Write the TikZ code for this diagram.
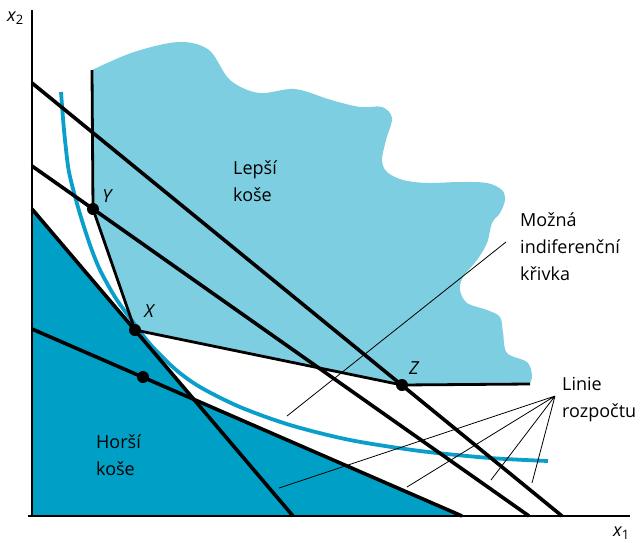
\documentclass[tikz,border=0pt]{standalone}
\usepackage{fontspec}
\setmainfont{Open Sans}
\definecolor{better}{HTML}{7ECEE2}
\definecolor{worse}{HTML}{00A0C6}
\definecolor{icurve}{HTML}{0A9ECA}
\begin{document}
\begin{tikzpicture}[x=1pt,y=-1pt,
  ax/.style={line width=2.8pt},
  budget/.style={line width=3.6pt},
  kink/.style={line width=2.8pt, line join=round},
  ptr/.style={line width=0.8pt},
  lbl/.style={font=\fontsize{18}{27}\selectfont, align=left, anchor=base west, inner sep=0pt},
  ptlabel/.style={font=\fontsize{18}{18}\selectfont\itshape, inner sep=0pt},
  dotnode/.style={circle, fill=black, minimum size=12pt, inner sep=0pt}]
\useasboundingbox (0,0) rectangle (641,542);
% key points
\coordinate (O) at (32,516);
\coordinate (Ytop) at (32,10);
\coordinate (Xend) at (630,516);
\coordinate (Xstart) at (28,516);
\coordinate (pY) at (93,209);
\coordinate (pX) at (135,330);
\coordinate (pZ) at (402,385);
\coordinate (pW) at (143,377);
\coordinate (K0) at (92,70);
\coordinate (K1) at (530,384);
% budget lines
\coordinate (L1a) at (32,83);  \coordinate (L1b) at (562,516);
\coordinate (L2a) at (32,166); \coordinate (L2b) at (529,516);
\coordinate (L3a) at (32,209); \coordinate (L3b) at (293,516);
\coordinate (L4a) at (32,329); \coordinate (L4b) at (462,516);
\coordinate (L34) at (intersection of L3a--L3b and L4a--L4b);
% better baskets
\fill[better] (K0) -- plot[smooth, tension=0.55] coordinates {(92,70) (134,52) (179,42) (209,50) (230,80) (259,93) (295,89) (331,100) (360,107) (382,107) (392,118) (386,140) (382,160) (387,172) (403,180) (427,183) (460,182) (487,183) (502,190) (505,200) (500,213) (492,223) (487,243) (477,260) (463,277) (460,290) (467,303) (487,310) (500,317) (503,333) (507,353) (527,362) (532,375) (530,384)} -- (pZ) -- (pX) -- (pY) -- cycle;
% worse baskets
\fill[worse] (L3a) -- (L34) -- (L4b) -- (O) -- cycle;
% indifference curve
\draw[icurve, line width=3.8pt] plot[smooth, tension=0.5] coordinates {(61,92) (64,130) (68,166) (72,185) (80,214) (90,245) (100,270) (115,297) (130,318) (150,344) (175,369) (200,387) (240,407) (290,425) (350,440) (420,451) (490,458) (548,461)};
% pointers
\coordinate (Mp) at (506,242); \coordinate (Mq) at (287,416);
\draw[ptr] (Mp) -- (Mq);
\coordinate (Lp) at (555,396);
\coordinate (Lq1) at (279,488); \coordinate (Lq2) at (407,487);
\coordinate (Lq3) at (491,480); \coordinate (Lq4) at (532,483);
\draw[ptr] (Lp) -- (Lq1) (Lp) -- (Lq2) (Lp) -- (Lq3) (Lp) -- (Lq4);
% budget lines
\draw[budget] (L1a) -- (L1b);
\draw[budget] (L2a) -- (L2b);
\draw[budget] (L3a) -- (L3b);
\draw[budget] (L4a) -- (L4b);
% kinked indifference curve
\draw[kink] (K0) -- (pY) -- (pX) -- (pZ) -- (K1);
% axes
\draw[ax] (O) -- (Ytop);
\draw[ax] (Xstart) -- (Xend);
% dots
\node[dotnode] (Y) at (pY) {};
\node[dotnode] (X) at (pX) {};
\node[dotnode] (Z) at (pZ) {};
\node[dotnode] (W) at (pW) {};
% labels
\node[ptlabel] (Ylab) at (107,196) {Y};
\node[ptlabel] (Xlab) at (149,311) {X};
\node[ptlabel] (Zlab) at (414,368) {Z};
\node[lbl] (better-l) at (233,201) {Lepší\\koše};
\node[lbl] (worse-l) at (96,475) {Horší\\koše};
\node[lbl] (ic-l) at (520,280) {Možná\\indiferenční\\křivka};
\node[lbl] (bl-l) at (562,417) {Linie\\rozpočtu};
\node[inner sep=0pt, anchor=base west] (x2lab) at (7,21) {\fontsize{18}{18}\selectfont\itshape x\raisebox{-0.35ex}{\fontsize{13}{13}\selectfont\upshape 2}};
\node[inner sep=0pt, anchor=base west] (x1lab) at (613,536) {\fontsize{18}{18}\selectfont\itshape x\raisebox{-0.35ex}{\fontsize{13}{13}\selectfont\upshape 1}};
\end{tikzpicture}
\end{document}
